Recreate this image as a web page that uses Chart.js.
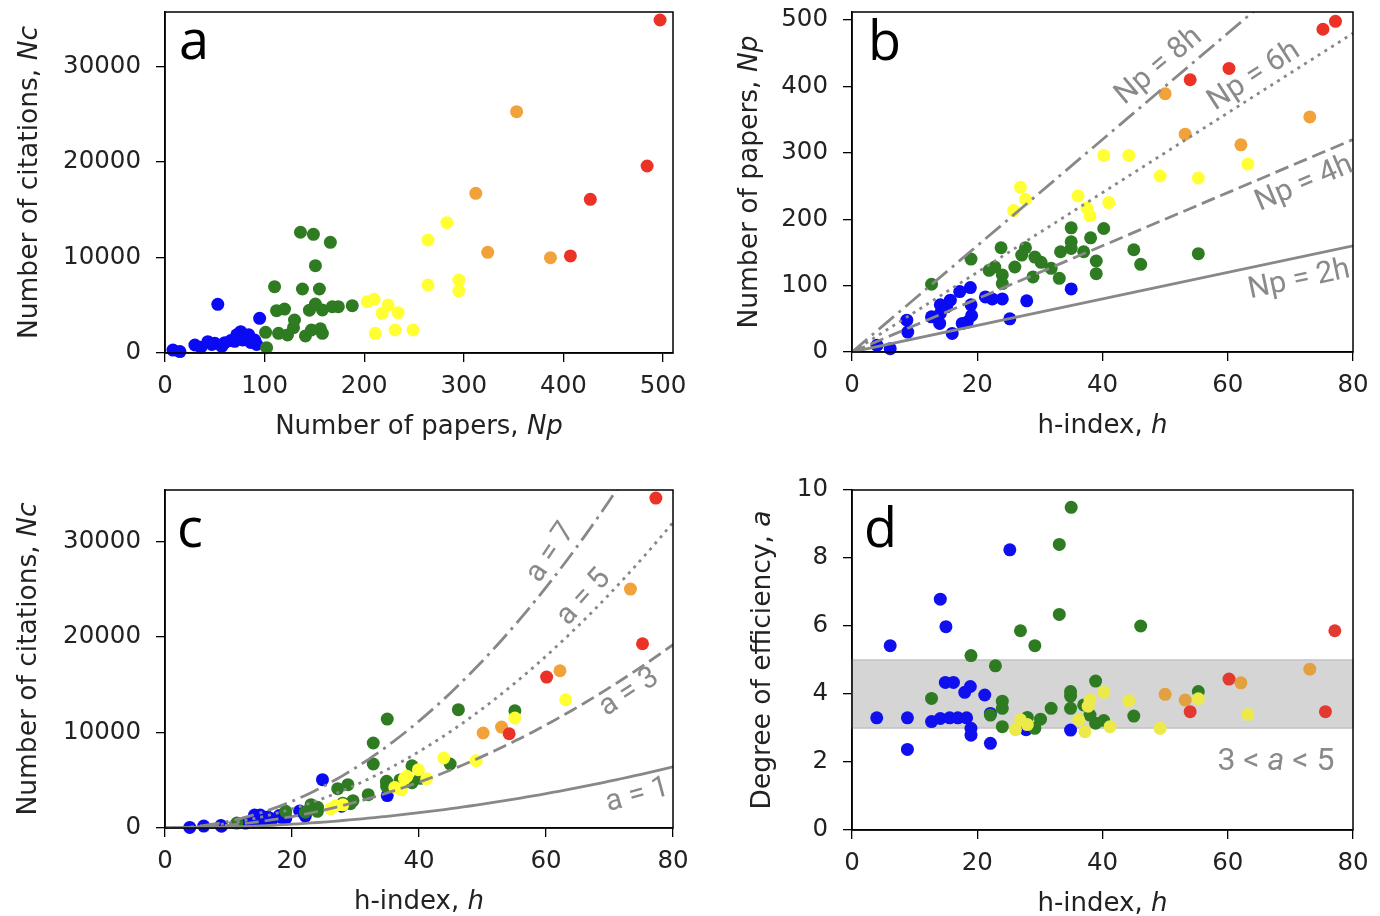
<!DOCTYPE html>
<html>
<head>
<meta charset="utf-8">
<script src="https://cdn.jsdelivr.net/npm/chart.js@4.4.1/dist/chart.umd.min.js"></script>
<style>
  body { margin: 0; background: #fff; width: 1380px; height: 916px; position: relative; overflow: hidden; }
  .panel { position: absolute; width: 690px; height: 458px; }
</style>
</head>
<body>
<div class="panel" style="left:0;top:0"><canvas id="chart-a" width="690" height="458"></canvas></div>
<div class="panel" style="left:690px;top:0"><canvas id="chart-b" width="690" height="458"></canvas></div>
<div class="panel" style="left:0;top:458px"><canvas id="chart-c" width="690" height="458"></canvas></div>
<div class="panel" style="left:690px;top:458px"><canvas id="chart-d" width="690" height="458"></canvas></div>
<script>
// tick labels
const hTicks = [0, 20, 40, 60, 80];
const npTicksA = [0, 100, 200, 300, 400, 500];
const npTicksB = [0, 100, 200, 300, 400, 500];
const ncTicks = [0, 10000, 20000, 30000];
const effTicks = [0, 2, 4, 6, 8, 10];

// guide lines
const npSlopes = [8, 6, 4, 2];
const effLevels = [7, 5, 3, 1];
const bandRange = [3, 5];

// panel a: [Np, Nc]
const aBlue = [[8,310],[15,150],[30,840],[36,600],[43,1190],[47,900],[50,1010],[53,5100],[57,700],[60,1080],[66,1300],[70,1220],[72,1900],[76,2230],[78,1360],[80,1700],[84,1920],[86,1100],[90,1360],[92,900],[95,3630]];
const aGreen = [[102,560],[101,2160],[110,6940],[112,4430],[114,2060],[120,4600],[123,1890],[129,2650],[130,3450],[136,12640],[138,6700],[141,1790],[145,4480],[147,2410],[149,12420],[151,9140],[151,5130],[155,6700],[156,2540],[158,4500],[158,2060],[166,11590],[168,4850],[174,4850],[188,4950]];
const aYellow = [[203,5370],[210,5620],[211,2060],[218,4150],[224,5030],[231,2410],[234,4220],[249,2410],[264,11830],[264,7120],[283,13640],[295,7640],[295,6490]];
const aOrange = [[312,16720],[324,10540],[353,25270],[387,9980]];
const aRed = [[407,10160],[427,16090],[484,19580],[497,34860]];

// panel b: [h, Np]
const bBlue = [[4,10],[6.1,5],[8.75,48],[8.9,30],[12.7,53],[14,43],[14.1,71],[14.1,58],[15.1,68],[15.7,78],[16,28],[17.2,91],[17.6,43],[18.4,45],[18.9,97],[19,71],[19.1,55],[21.3,83],[22.4,80],[24,80],[25.2,50],[27.9,77],[35,95]];
const bGreen = [[12.7,102],[19,140],[21.9,123],[22.8,128],[23.8,157],[24,116],[24,103],[26,128],[27.1,146],[27.7,157],[28.9,113],[29.2,143],[30.2,135],[31.8,126],[33.1,111],[33.3,151],[35,187],[35,166],[35,156],[37,151],[38.1,172],[39,137],[39,118],[40.2,186],[45,154],[46.1,132],[55.3,148]];
const bYellow = [[25.8,213],[26.9,248],[27.7,230],[36.1,235],[37.5,217],[38,205],[40.2,296],[41,225],[44.2,296],[49.2,265],[55.3,262],[63.2,283]];
const bOrange = [[50,389],[53.2,328],[62.1,312],[73.1,354]];
const bRed = [[54,410],[60.2,427],[75.2,486],[77.2,498]];

// panel c: [h, Nc]
const cBlue = [[3.9,60],[6.1,200],[8.8,260],[8.9,190],[12.7,520],[14.1,650],[14.1,1350],[14.9,960],[15,1350],[15.6,800],[16.2,1140],[16.9,940],[18,1310],[18.3,1100],[18.9,1510],[19,1080],[19,1010],[21.2,1780],[22.1,1250],[22.1,1680],[24.8,5060],[27.8,2280],[35,3400]];
const cGreen = [[11.3,520],[19,1750],[22.1,1650],[23,2440],[24,2180],[24,2060],[24,1750],[27.2,4120],[28,2600],[28.8,4540],[29.2,2550],[29.6,2860],[32,3490],[32.8,8900],[32.8,6700],[34.9,4890],[34.9,4800],[35,11410],[34.9,4360],[37,5040],[38,4880],[38.9,6520],[38.9,4750],[40.2,5200],[44.9,6700],[46.2,12390],[55.1,12280]];
const cYellow = [[26.1,2010],[26.9,2340],[28,2430],[36.2,4250],[37.2,4000],[37.7,5170],[38.1,5410],[39.9,6100],[41.2,5160],[43.9,7330],[49,7050],[55.1,11520],[63.1,13430]];
const cOrange = [[50.1,9950],[53,10570],[62.2,16470],[73.3,25020]];
const cRed = [[54.2,9870],[60.1,15810],[75.2,19300],[77.3,34550]];

// panel d: [h, a]
const dBlue = [[3.95,3.30],[6.1,5.42],[8.85,3.30],[8.85,2.37],[12.7,3.19],[14.1,3.28],[14.1,6.79],[14.9,4.34],[15,5.98],[15.6,3.30],[16.2,4.34],[16.9,3.30],[18,4.05],[18.3,3.30],[18.9,4.22],[19,2.99],[19,2.79],[21.2,3.97],[22.1,2.55],[22.1,3.43],[25.2,8.24],[27.8,2.95],[34.9,2.94]];
const dGreen = [[12.7,3.87],[19,5.13],[22.1,3.38],[22.9,4.83],[24,3.79],[24,3.58],[24,3.04],[26.9,5.86],[28,3.31],[29.2,5.42],[29.2,2.99],[30.1,3.26],[31.8,3.58],[33.1,8.40],[33.1,6.34],[34.9,4.07],[34.9,3.94],[34.9,3.58],[35,9.49],[37,3.68],[38,3.38],[38.9,4.38],[38.9,3.14],[40.2,3.22],[45,3.35],[46.1,6.0],[55.3,4.07]];
const dYellow = [[26.1,2.95],[26.9,3.24],[28,3.10],[36.2,3.24],[37.2,2.89],[37.7,3.64],[38,3.82],[40.2,4.05],[41.2,3.04],[44.2,3.80],[49.2,2.99],[55.3,3.86],[63.2,3.40]];
const dOrange = [[50,3.99],[53.2,3.82],[62.1,4.33],[73.1,4.73]];
const dRed = [[54,3.48],[60.2,4.44],[75.6,3.48],[77.1,5.86]];

const colors = ['#ec3226', '#f2a23a', '#ffff33', '#2e7b22', '#0a0af5'];
const colorsD = ['#e23a30', '#e2a040', '#ecea48', '#2e7b22', '#1010ee'];
const dashes = [[20, 6, 3, 6], [3, 5], [14, 6], []];

const axisFont = 'DejaVu Sans';
const noteFont = 'Roboto';

function pointSets(groups, cols) {
    return groups.map((g, i) => ({
        data: g.map(p => ({x: p[0], y: p[1]})),
        backgroundColor: cols[i],
        borderWidth: 0,
        pointRadius: 6.5,
        pointHoverRadius: 6.5,
        clip: false,
    }));
}

function guide(pts, dash) {
    return {
        data: pts,
        showLine: true,
        borderColor: '#888888',
        borderWidth: 2.8,
        borderDash: dash,
        pointRadius: 0,
        fill: false,
        clip: 0,
    };
}

function drawRich(ctx, parts, x, y, size, family, color) {
    let total = 0;
    parts.forEach(p => {
        ctx.font = (p[1] ? 'italic ' : '') + size + 'px "' + family + '"';
        total += ctx.measureText(p[0]).width;
    });
    let cx = x - total / 2;
    ctx.textAlign = 'left';
    ctx.textBaseline = 'middle';
    ctx.fillStyle = color;
    parts.forEach(p => {
        ctx.font = (p[1] ? 'italic ' : '') + size + 'px "' + family + '"';
        ctx.fillText(p[0], cx, y);
        cx += ctx.measureText(p[0]).width;
    });
}

function panelPlugin(p) {
    return {
        id: 'panel_' + p.letter,
        beforeDatasetsDraw(chart) {
            if (!p.band) return;
            const ctx = chart.ctx, ca = chart.chartArea, ys = chart.scales.y;
            const y1 = ys.getPixelForValue(p.band[1]), y0 = ys.getPixelForValue(p.band[0]);
            ctx.save();
            ctx.fillStyle = '#d5d5d5';
            ctx.fillRect(ca.left, y1, ca.right - ca.left, y0 - y1);
            ctx.strokeStyle = '#c2c2c2';
            ctx.lineWidth = 1.5;
            ctx.strokeRect(ca.left, y1, ca.right - ca.left, y0 - y1);
            ctx.restore();
        },
        afterDraw(chart) {
            const ctx = chart.ctx, ca = chart.chartArea;
            ctx.save();
            ctx.strokeStyle = '#000';
            ctx.lineWidth = 1.5;
            ctx.strokeRect(ca.left, ca.top, ca.right - ca.left, ca.bottom - ca.top);

            ctx.font = '54px "Open Sans"';
            ctx.fillStyle = '#000';
            ctx.textAlign = 'left';
            ctx.textBaseline = 'alphabetic';
            ctx.fillText(p.letter, ca.left + p.letterAt[0], ca.top + p.letterAt[1]);

            drawRich(ctx, p.xTitle, (ca.left + ca.right) / 2, ca.bottom + 74, 26, axisFont, '#222');
            ctx.translate(ca.left - p.yTitleOff, (ca.top + ca.bottom) / 2);
            ctx.rotate(-Math.PI / 2);
            drawRich(ctx, p.yTitle, 0, 0, 26.5, axisFont, '#222');
            ctx.restore();

            p.notes.forEach(n => {
                const x = chart.scales.x.getPixelForValue(n.x);
                const y = chart.scales.y.getPixelForValue(n.y);
                ctx.save();
                ctx.translate(x, y);
                ctx.rotate(-n.angle * Math.PI / 180);
                drawRich(ctx, n.text, 0, 0, n.size || 30, noteFont, '#8a8a8a');
                ctx.restore();
            });
        }
    };
}

function axisOpts(min, max, ticks, dir, size) {
    return {
        type: 'linear',
        min: min,
        max: max,
        afterBuildTicks: ax => { ax.ticks = ticks.map(v => ({value: v})); },
        afterFit: ax => {
            if (dir === 'x') ax.height = size; else ax.width = size;
            ax.paddingLeft = 0; ax.paddingRight = 0; ax.paddingTop = 0; ax.paddingBottom = 0;
        },
        grid: {display: true, drawOnChartArea: false, drawTicks: true, tickLength: 9, color: '#000', lineWidth: 1.3},
        border: {display: true, color: '#000', width: 1.5},
        ticks: {
            autoSkip: false, maxRotation: 0, minRotation: 0,
            padding: dir === 'x' ? 10 : 15,
            color: '#222',
            font: {family: axisFont, size: 24.5},
            callback: v => String(v),
        },
    };
}

function buildChart(p) {
    return new Chart(document.getElementById(p.id), {
        type: 'scatter',
        data: {datasets: p.datasets},
        options: {
            responsive: false,
            animation: false,
            devicePixelRatio: 1,
            events: [],
            layout: {padding: {left: 0, top: p.pad[0], right: p.pad[1], bottom: 0}},
            plugins: {legend: {display: false}, tooltip: {enabled: false}},
            scales: {
                x: axisOpts(p.x[0], p.x[1], p.xTicks, 'x', p.xh),
                y: axisOpts(p.y[0], p.y[1], p.yTicks, 'y', p.yw),
            },
        },
        plugins: [panelPlugin(p)],
    });
}

const hSamples = [];
for (let h = 0; h <= 80; h += 1) hSamples.push(h);

buildChart({
    id: 'chart-a', letter: 'a', letterAt: [14, 47],
    x: [0, 510], y: [0, 35700], xTicks: npTicksA, yTicks: ncTicks,
    pad: [12, 17], xh: 105, yw: 165, yTitleOff: 135,
    xTitle: [['Number of papers, ', false], ['Np', true]],
    yTitle: [['Number of citations, ', false], ['Nc', true]],
    notes: [],
    datasets: pointSets([aRed, aOrange, aYellow, aGreen, aBlue], colors),
});

buildChart({
    id: 'chart-b', letter: 'b', letterAt: [16, 48],
    x: [0, 80], y: [0, 512], xTicks: hTicks, yTicks: npTicksB,
    pad: [12, 27], xh: 106, yw: 162, yTitleOff: 102,
    xTitle: [['h-index, ', false], ['h', true]],
    yTitle: [['Number of papers, ', false], ['Np', true]],
    notes: [
        {text: [['Np = 8h', false]], x: 49, y: 430, angle: 40},
        {text: [['Np = 6h', false]], x: 64.2, y: 415, angle: 33},
        {text: [['Np = 4h', false]], x: 72.2, y: 253, angle: 23},
        {text: [['Np = 2h', false]], x: 71.4, y: 108, angle: 12},
    ],
    datasets: npSlopes.map((k, i) => guide([{x: 0, y: 0}, {x: 80, y: k * 80}], dashes[i]))
        .concat(pointSets([bRed, bOrange, bYellow, bGreen, bBlue], colors)),
});

buildChart({
    id: 'chart-c', letter: 'c', letterAt: [12, 57],
    x: [0, 80], y: [0, 35400], xTicks: hTicks, yTicks: ncTicks,
    pad: [32, 17], xh: 88, yw: 165, yTitleOff: 136,
    xTitle: [['h-index, ', false], ['h', true]],
    yTitle: [['Number of citations, ', false], ['Nc', true]],
    notes: [
        {text: [['a = 7', false]], x: 60.8, y: 28830, angle: 56},
        {text: [['a = 5', false]], x: 66, y: 24130, angle: 48},
        {text: [['a = 3', false]], x: 73.1, y: 14170, angle: 33},
        {text: [['a = 1', false]], x: 74.4, y: 3400, angle: 15},
    ],
    datasets: effLevels.map((k, i) => guide(hSamples.map(h => ({x: h, y: k * h * h})), dashes[i]))
        .concat(pointSets([cRed, cOrange, cYellow, cGreen, cBlue], colors)),
});

buildChart({
    id: 'chart-d', letter: 'd', letterAt: [12, 57],
    x: [0, 80], y: [0, 10], xTicks: hTicks, yTicks: effTicks,
    pad: [32, 27], xh: 86, yw: 162, yTitleOff: 89,
    band: bandRange,
    xTitle: [['h-index, ', false], ['h', true]],
    yTitle: [['Degree of efficiency, ', false], ['a', true]],
    notes: [
        {text: [['3 < ', false], ['a', true], [' < 5', false]], x: 67.7, y: 2.0, angle: 0, size: 32},
    ],
    datasets: pointSets([dRed, dOrange, dYellow, dGreen, dBlue], colorsD),
});
</script>
</body>
</html>
